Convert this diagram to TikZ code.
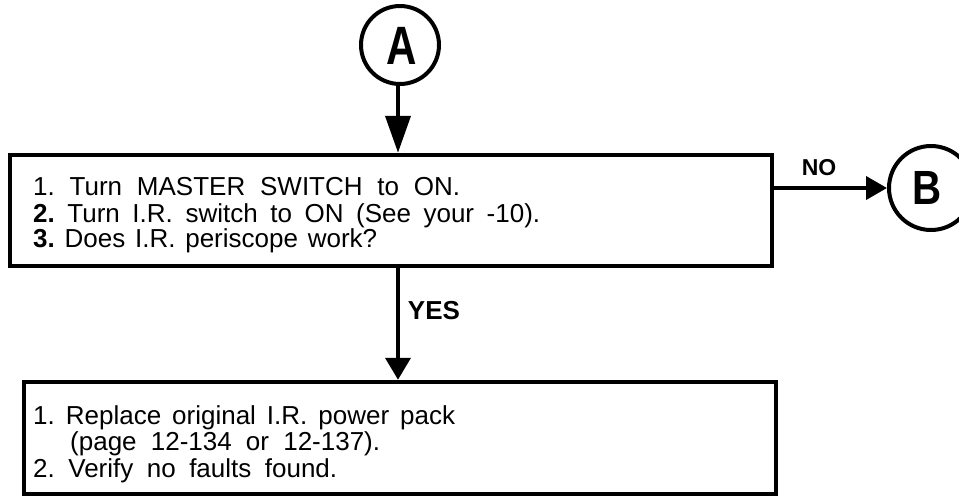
\documentclass[tikz,border=0pt]{standalone}
\usepackage{fontspec}
\setmainfont{Liberation Sans}
\usetikzlibrary{arrows.meta}
\frenchspacing
\begin{document}
\begin{tikzpicture}[x=1pt,y=-1pt,
  stepbox/.style={draw, line width=4pt, inner sep=0pt},
  conn/.style={circle, draw, line width=4pt, inner sep=0pt},
  txt/.style={anchor=base west, inner sep=0pt, font=\fontsize{26}{26.5}\selectfont},
  lab/.style={inner sep=0pt, font=\fontsize{26}{26}\selectfont\bfseries},
  link/.style={line width=4pt},
]
\useasboundingbox (0,0) rectangle (959,496);

% connectors (circles)
\node[conn, minimum size=78pt] (A) at (400,45) {};
\node[inner sep=0pt, font=\fontsize{54}{54}\selectfont\bfseries] (Aletter) at (402,46) {\scalebox{0.78}[1]{A}};
\node[conn, minimum size=84pt] (B) at (931,188) {};
\node[inner sep=0pt, font=\fontsize{48}{48}\selectfont\bfseries] (Bletter) at (927,188) {\scalebox{0.84}[1]{B}};

% boxes
\node[stepbox, line width=4.5pt, minimum width=762pt, minimum height=111pt] (box1) at (391,210.5) {};
\node[stepbox, line width=4.5pt, minimum width=752pt, minimum height=112pt] (box2) at (400,438) {};

% box 1 text
\node[txt] (t11) at (33,195) {\makebox[427pt][s]{1. Turn MASTER SWITCH to ON.}};
\node[txt] (t12) at (33,222) {\makebox[507pt][s]{\textbf{2.} Turn I.R. switch to ON (See your -10).}};
\node[txt] (t13) at (33,247.5) {\makebox[344pt][s]{\textbf{3.} Does I.R. periscope work?}};

% box 2 text
\node[txt] (t21) at (33,424) {\makebox[422pt][s]{1. Replace original I.R. power pack}};
\node[txt] (t22) at (70,450.5) {\makebox[310pt][s]{(page 12-134 or 12-137).}};
\node[txt] (t23) at (33,477) {\makebox[304pt][s]{2. Verify no faults found.}};

% arrows
\coordinate (axis) at (398,0);
\draw[link, -{Triangle[length=37pt,width=25pt]}] (A.south -| axis) -- (box1.north -| axis);
\draw[link, -{Triangle[length=22pt,width=25pt]}] (box1.south -| axis) -- (box2.north -| axis);
\draw[link, -{Triangle[length=21pt,width=23pt]}] (box1.east |- B.west) -- (B.west);

% labels
\node[lab, font=\fontsize{23}{23}\selectfont\bfseries] (no) at (819,168) {NO};
\node[lab] (yes) at (434,311) {YES};
\end{tikzpicture}
\end{document}
